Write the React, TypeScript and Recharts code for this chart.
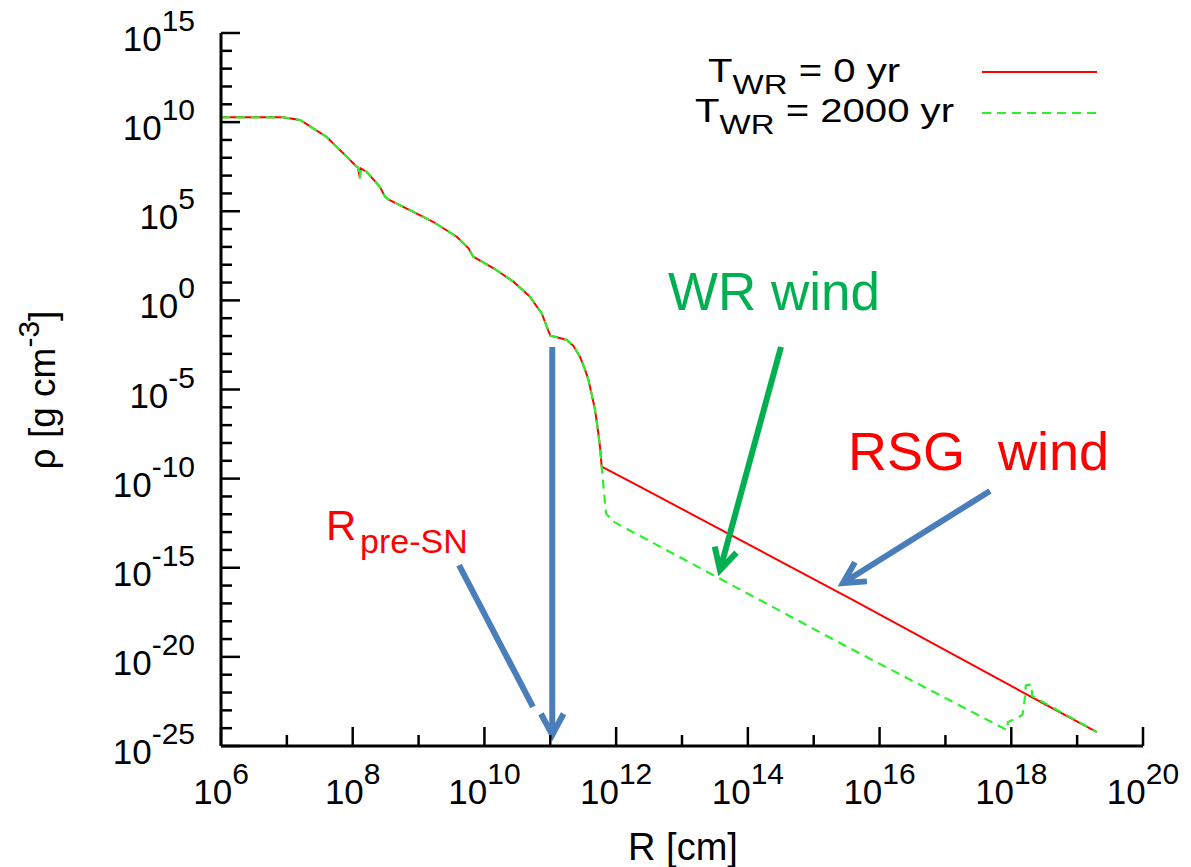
import React from "react";
import { LineChart, Line, XAxis, YAxis, ReferenceLine } from "recharts";

// log10(R [cm]) and log10(rho [g cm^-3])
const innerLogR = [6.0, 6.94, 7.2, 7.4, 7.6, 7.91, 8.06, 8.08, 8.11, 8.12, 8.21, 8.41, 8.49, 8.54, 8.92, 9.22, 9.58, 9.76, 9.83, 10.14, 10.44, 10.69, 10.87, 11.0, 11.1, 11.25, 11.35, 11.45, 11.52, 11.58, 11.63, 11.68, 11.73, 11.76, 11.78];
const innerLogRho = [10.27, 10.27, 10.12, 9.65, 9.18, 8.06, 7.5, 7.45, 6.85, 7.4, 7.22, 6.38, 5.82, 5.67, 4.97, 4.41, 3.57, 2.92, 2.45, 1.8, 1.05, 0.21, -0.73, -1.98, -2.07, -2.22, -2.55, -3.16, -3.8, -4.47, -5.3, -6.15, -7.46, -8.4, -9.33];

const rsgWindLogR = [12.36, 15.6, 18.31, 19.3];
const rsgWindLogRho = [-10.45, -16.81, -22.26, -24.22];

const wrWindLogR = [11.846, 11.957, 15.55, 17.93, 17.95, 18.08, 18.17, 18.2, 18.22, 18.3, 18.32, 19.3];
const wrWindLogRho = [-11.95, -12.41, -19.52, -24.1, -23.65, -23.45, -23.25, -22.5, -21.6, -21.55, -22.2, -24.22];

const xTicks = [6, 7, 8, 9, 10, 11, 12, 13, 14, 15, 16, 17, 18, 19, 20];
const yTicks = Array.from({ length: 41 }, (_, i) => i - 25);

const legendLabels = ["0 yr", "2000 yr"];

const toRows = (xs: number[], ys: number[]) => xs.map((x, i) => ({ x, y: ys[i] }));
const redData = [...toRows(innerLogR, innerLogRho), ...toRows(rsgWindLogR, rsgWindLogRho)];
const greenData = [...toRows(innerLogR, innerLogRho), ...toRows(wrWindLogR, wrWindLogRho)];

const FONT = "'Liberation Sans', Arial, Helvetica, sans-serif";
const BLUE = "#4a7ebb";
const GREEN_TXT = "#00b050";
const GREEN_LINE = "#2eee2e";

const XTick = (props: any) => {
  const { x, y, payload, top } = props;
  const v = payload.value as number;
  const major = v % 2 === 0;
  const len = major ? 19 : 11;
  return (
    <g>
      <line x1={x} x2={x} y1={y} y2={top ? y + len : y - len} stroke="#000" strokeWidth={2.5} />
      {!top && major && (
        <text x={x} y={y + 58} textAnchor="middle" fontFamily={FONT} fill="#000">
          <tspan fontSize={35}>10</tspan>
          <tspan fontSize={30} dy={-20}>{v}</tspan>
        </text>
      )}
    </g>
  );
};

const YTick = (props: any) => {
  const { x, y, payload, right } = props;
  const v = payload.value as number;
  const major = v % 5 === 0;
  const len = major ? 19 : 11;
  return (
    <g>
      <line x1={x} x2={right ? x - len : x + len} y1={y} y2={y} stroke="#000" strokeWidth={2.5} />
      {!right && major && (
        <text x={195} y={y + 18} textAnchor="end" fontFamily={FONT} fill="#000">
          <tspan fontSize={35}>10</tspan>
          <tspan fontSize={30} dy={-20}>{v < 0 ? "-" + Math.abs(v) : String(v)}</tspan>
        </text>
      )}
    </g>
  );
};

const arrowShape = (color: string, head: boolean) => (p: any) => {
  const { x1, y1, x2, y2 } = p;
  const ang = Math.atan2(y2 - y1, x2 - x1);
  const L = 24;
  const a = (28 * Math.PI) / 180;
  const ax = x2 - L * Math.cos(ang - a);
  const ay = y2 - L * Math.sin(ang - a);
  const bx = x2 - L * Math.cos(ang + a);
  const by = y2 - L * Math.sin(ang + a);
  return (
    <g>
      <line x1={x1} y1={y1} x2={x2} y2={y2} stroke={color} strokeWidth={6} />
      {head && (
        <polyline points={`${ax},${ay} ${x2},${y2} ${bx},${by}`} fill="none" stroke={color} strokeWidth={6} strokeLinejoin="miter" />
      )}
    </g>
  );
};

const arrows = [
  { seg: [{ x: 11.03, y: -2.62 }, { x: 11.03, y: -24.38 }], color: BLUE, head: true },
  { seg: [{ x: 9.614, y: -14.85 }, { x: 10.737, y: -22.81 }], color: BLUE, head: false },
  { seg: [{ x: 14.503, y: -2.62 }, { x: 13.577, y: -15.13 }], color: GREEN_TXT, head: true },
  { seg: [{ x: 17.676, y: -10.69 }, { x: 15.444, y: -15.86 }], color: BLUE, head: true },
];

export default function App() {
  return (
    <div style={{ position: "absolute", left: 0, top: 0, width: 1191, height: 867, background: "#fff" }}>
      <LineChart width={1191} height={867} margin={{ top: 33, right: 48, left: 0, bottom: 0 }}>
        <XAxis xAxisId="b" type="number" dataKey="x" domain={[6, 20]} allowDataOverflow ticks={xTicks} interval={0} height={121} tickSize={0} tickMargin={0} tickLine={false} tick={<XTick />} axisLine={{ stroke: "#000", strokeWidth: 3 }} />
        <XAxis xAxisId="t" orientation="top" type="number" dataKey="x" domain={[6, 20]} allowDataOverflow ticks={xTicks} interval={0} height={0} tickSize={0} tickMargin={0} tickLine={false} tick={<XTick top />} axisLine={{ stroke: "#000", strokeWidth: 3 }} />
        <YAxis yAxisId="l" type="number" dataKey="y" domain={[-25, 15]} allowDataOverflow ticks={yTicks} interval={0} width={221} tickSize={0} tickMargin={0} tickLine={false} tick={<YTick />} axisLine={{ stroke: "#000", strokeWidth: 3 }} />
        <YAxis yAxisId="r" orientation="right" type="number" dataKey="y" domain={[-25, 15]} allowDataOverflow ticks={yTicks} interval={0} width={0} tickSize={0} tickMargin={0} tickLine={false} tick={<YTick right />} axisLine={{ stroke: "#000", strokeWidth: 3 }} />
        <Line xAxisId="b" yAxisId="l" data={redData} dataKey="y" type="linear" stroke="#ff0000" strokeWidth={2} dot={false} isAnimationActive={false} />
        <Line xAxisId="b" yAxisId="l" data={greenData} dataKey="y" type="linear" stroke={GREEN_LINE} strokeWidth={2.2} strokeDasharray="9 6" dot={false} isAnimationActive={false} />
        {arrows.map((a, i) => (
          <ReferenceLine key={i} xAxisId="b" yAxisId="l" segment={a.seg} ifOverflow="visible" shape={arrowShape(a.color, a.head)} />
        ))}
      </LineChart>
      <svg width={1191} height={867} style={{ position: "absolute", left: 0, top: 0, pointerEvents: "none" }}>
        <g fontFamily={FONT}>
          {/* legend */}
          <g transform="translate(708,82) scale(1.18,1)">
            <text fill="#000" style={{ whiteSpace: "pre" }}>
              <tspan fontSize={34}>T</tspan>
              <tspan fontSize={28} dy={12}>WR</tspan>
              <tspan fontSize={34} dy={-12}>{" = " + legendLabels[0]}</tspan>
            </text>
          </g>
          <g transform="translate(695,122) scale(1.18,1)">
            <text fill="#000" style={{ whiteSpace: "pre" }}>
              <tspan fontSize={34}>T</tspan>
              <tspan fontSize={28} dy={12}>WR</tspan>
              <tspan fontSize={34} dy={-12}>{" = " + legendLabels[1]}</tspan>
            </text>
          </g>
          <line x1={982} x2={1097} y1={72} y2={72} stroke="#ff0000" strokeWidth={2} />
          <line x1={982} x2={1097} y1={113} y2={113} stroke={GREEN_LINE} strokeWidth={2.2} strokeDasharray="9 6" />
          {/* axis titles */}
          <text x={683} y={860} textAnchor="middle" fontSize={38} fill="#000">R [cm]</text>
          <text transform="translate(55,390) rotate(-90)" textAnchor="middle" fill="#000">
            <tspan fontSize={37}>ρ [g cm</tspan>
            <tspan fontSize={30} dy={-16}>-3</tspan>
            <tspan fontSize={37} dy={16}>]</tspan>
          </text>
          {/* annotations */}
          <text x={668} y={310} fontSize={53} fill={GREEN_TXT}>WR wind</text>
          <text x={848} y={470} fontSize={54} fill="#ff0000">RSG</text>
          <text x={998} y={470} fontSize={54} fill="#ff0000">wind</text>
          <text x={326} y={540} fontSize={42} fill="#ff0000">R</text>
          <text x={360} y={553} fontSize={34} fill="#ff0000">pre-SN</text>
        </g>
      </svg>
    </div>
  );
}
